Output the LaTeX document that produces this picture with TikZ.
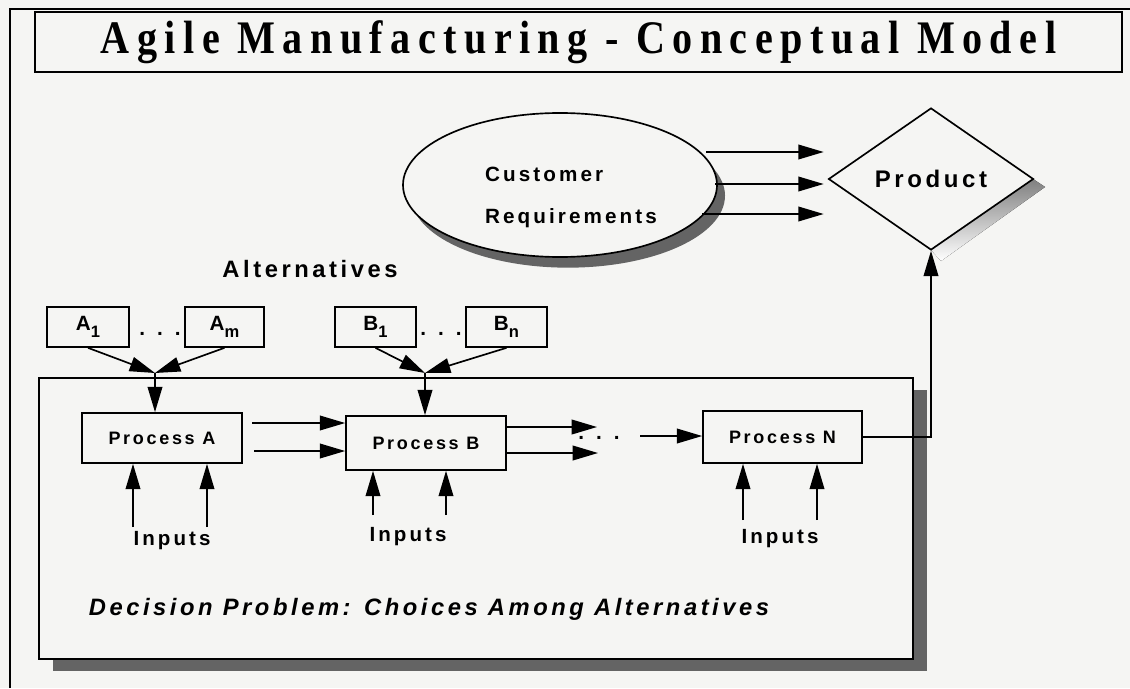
\documentclass[tikz,border=0pt]{standalone}
\usepackage{fontspec}
\usetikzlibrary{shapes.geometric,arrows.meta,shadows,calc}
\setmainfont{Liberation Sans}
\newfontfamily\titlefont{Liberation Serif}[FakeStretch=0.86, LetterSpace=16]
\newfontfamily\labelfont{Liberation Sans}[LetterSpace=15]
\definecolor{paper}{RGB}{245,245,243}
\definecolor{shade}{RGB}{100,100,100}
\newcommand{\pix}{*0.75pt}
\newcommand{\idx}[1]{\raisebox{-0.35em}{\scalebox{0.8}{#1}}}
\newcommand{\threedots}{.\hspace{9pt}.\hspace{9pt}.}

\begin{document}
\begin{tikzpicture}[x=0.75pt, y=-0.75pt, line width=1.25pt,
  >={Triangle[length=19pt,width=11pt]},
  box/.style={draw, fill=paper, rectangle, inner sep=0pt},
  lbl/.style={font=\labelfont\bfseries\fontsize{15.5pt}{18pt}\selectfont},
  proc/.style={box, minimum width=160\pix, font=\labelfont\bfseries\fontsize{13.5pt}{16pt}\selectfont},
  inp/.style={font=\labelfont\bfseries\fontsize{15.4pt}{18pt}\selectfont, anchor=base}]

\useasboundingbox (0,0) rectangle (1130,688);
\fill[paper] (0,0) rectangle (1130,688);
\draw[line width=2.2pt] (10,688) -- (10,9) -- (1130,9);

\node[draw, line width=1.4pt, minimum width=1087\pix, minimum height=60\pix,
  font=\titlefont\bfseries\fontsize{35pt}{40pt}\selectfont] (title) at (578.5,42)
  {Agile Manufacturing - Conceptual Model};

% decision problem frame
\node[box, minimum width=874\pix, minimum height=281\pix,
  drop shadow={shadow xshift=10.5pt, shadow yshift=-9pt, opacity=1, fill=shade}] (dbox) at (476,518.5) {};

% customer side
\node[ellipse, draw, fill=paper, minimum width=314\pix, minimum height=144\pix,
  drop shadow={shadow xshift=6pt, shadow yshift=-8pt, opacity=1, fill=shade}] (creq) at (560,185) {};
\node[align=left, font=\labelfont\bfseries\fontsize{15.5pt}{31.5pt}\selectfont] (creqtxt) at (571,197.5) {Customer\\Requirements};

\fill[shade] (1033,179) -- (1045,187) -- (941,261) -- (931,250) -- cycle;
\node[diamond, draw, fill=paper, aspect=1.44, inner sep=0pt, minimum width=205\pix, minimum height=142\pix,
  font=\labelfont\bfseries\fontsize{18pt}{21pt}\selectfont] (prod) at (931,179) {Product};

% alternatives
\node[font=\labelfont\bfseries\fontsize{17.8pt}{21pt}\selectfont, anchor=base] (alt) at (310,277) {Alternatives};
\begin{scope}[every node/.style={box, lbl, minimum height=40\pix}]
  \node[minimum width=82\pix] (a1) at (88,327) {A\idx{1}};
  \node[minimum width=79\pix] (am) at (224.5,327) {A\idx{m}};
  \node[minimum width=81\pix] (b1) at (375.5,327) {B\idx{1}};
  \node[minimum width=81\pix] (bn) at (506.5,327) {B\idx{n}};
\end{scope}
\node[lbl, anchor=base] (adots) at (160,335) {\threedots};
\node[lbl, anchor=base] (bdots) at (441,335) {\threedots};

% processes
\node[proc, minimum height=50\pix] (pA) at (162,438) {Process A};
\node[proc, minimum height=54\pix] (pB) at (426,443) {Process B};
\node[proc, minimum width=159\pix, minimum height=52\pix] (pN) at (782.5,437) {Process N};
\node[lbl, anchor=base] (ndots) at (599,439) {\threedots};

\node[inp] (inA) at (172,545) {Inputs};
\node[inp] (inB) at (408,541) {Inputs};
\node[inp] (inN) at (780,543) {Inputs};
\node[font=\labelfont\bfseries\itshape\fontsize{17.8pt}{21pt}\selectfont, anchor=base west, inner sep=0pt] (dtxt) at (88,615)
  {Decision Problem: Choices Among Alternatives};

\coordinate (ma) at (155,373);
\coordinate (mb) at (425,373);
\coordinate (cr1) at (706,152);
\coordinate (cr2) at (715,184);
\coordinate (cr3) at (702,214);
\coordinate (ab1) at (252,423);
\coordinate (ab2) at (254,451);
\coordinate (bo1) at (597,427);
\coordinate (bo2) at (598,453);
\coordinate (ni) at (640,436);
\coordinate (ia1) at (133,527);
\coordinate (ia2) at (207,527);
\coordinate (ib1) at (373,515);
\coordinate (ib2) at (446,515);
\coordinate (in1) at (743,520);
\coordinate (in2) at (817,520);

\draw[->, shorten >=3pt] (cr1) -- (cr1 -| prod.west);
\draw[->, shorten >=3pt] (cr2) -- (cr2 -| prod.west);
\draw[->, shorten >=3pt] (cr3) -- (cr3 -| prod.west);

\draw[->] (a1.south) -- (ma);
\draw[->] (am.south) -- (ma);
\draw[->] (ma) -- (ma |- pA.north);
\draw[->] (b1.south) -- (mb);
\draw[->] (bn.south) -- (mb);
\draw[->] (mb) -- (mb |- pB.north);

\draw[->] (ab1) -- (ab1 -| pB.west);
\draw[->] (ab2) -- (ab2 -| pB.west);
\draw[->] (bo1 -| pB.east) -- (bo1);
\draw[->] (bo2 -| pB.east) -- (bo2);
\draw[->] (ni) -- (ni -| pN.west);
\draw[->] (pN.east) -| (prod.south);

\draw[->] (ia1) -- (ia1 |- pA.south);
\draw[->] (ia2) -- (ia2 |- pA.south);
\draw[->] (ib1) -- (ib1 |- pB.south);
\draw[->] (ib2) -- (ib2 |- pB.south);
\draw[->] (in1) -- (in1 |- pN.south);
\draw[->] (in2) -- (in2 |- pN.south);
\end{tikzpicture}
\end{document}
